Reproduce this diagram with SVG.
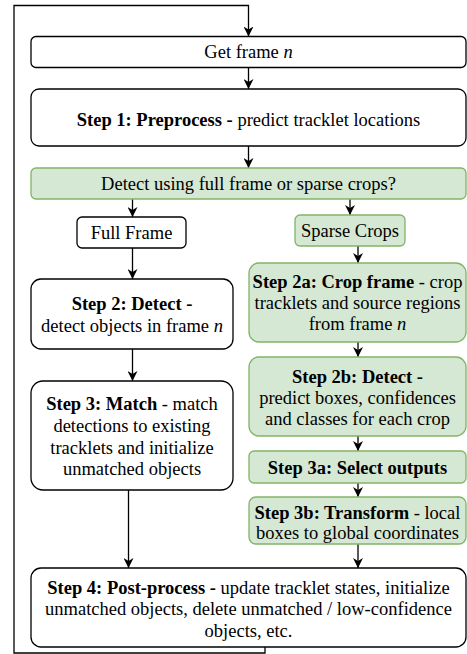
<svg xmlns="http://www.w3.org/2000/svg" width="467" height="654" viewBox="0 0 467 654">
<style>
.nodeWhite{fill:#ffffff;stroke:#000000;stroke-width:1.3}
.nodeGreen{fill:#d5e8d4;stroke:#82b366;stroke-width:1.3}
.edgeLine{fill:none;stroke:#000000;stroke-width:1.3}
</style>
<defs>
<marker id="ah" viewBox="0 0 10 10" refX="10" refY="5" markerWidth="10" markerHeight="10" markerUnits="userSpaceOnUse" orient="auto">
<path d="M0,0 L10,5 L0,10 L3,5 z" fill="#000000"/>
</marker>
</defs>
<rect width="467" height="654" fill="#ffffff"/>
<g id="connectors">
<path class="edgeLine" d="M265,647 V653 H14 V5.5 H248.5 V36.5" marker-end="url(#ah)"/>
<path class="edgeLine" d="M248.5,67.5 V89" marker-end="url(#ah)"/>
<path class="edgeLine" d="M248.5,146 V168" marker-end="url(#ah)"/>
<path class="edgeLine" d="M132.5,199 V217" marker-end="url(#ah)"/>
<path class="edgeLine" d="M350,199 V215" marker-end="url(#ah)"/>
<path class="edgeLine" d="M132.5,248 V279" marker-end="url(#ah)"/>
<path class="edgeLine" d="M358,246 V263" marker-end="url(#ah)"/>
<path class="edgeLine" d="M132.5,349 V381" marker-end="url(#ah)"/>
<path class="edgeLine" d="M358,342 V357" marker-end="url(#ah)"/>
<path class="edgeLine" d="M358,436 V451" marker-end="url(#ah)"/>
<path class="edgeLine" d="M358,483 V497" marker-end="url(#ah)"/>
<path class="edgeLine" d="M128.5,490 V568" marker-end="url(#ah)"/>
<path class="edgeLine" d="M358,544 V568" marker-end="url(#ah)"/>
</g>
<g id="get-frame">
<rect class="nodeWhite" x="31" y="36.5" width="435" height="31" rx="5"/>
<text style="font-family:'Liberation Serif',serif;font-size:18.5px;text-anchor:middle" x="248.5" y="58">Get frame <tspan style="font-style:italic">n</tspan></text>
</g>
<g id="step1">
<rect class="nodeWhite" x="31" y="89" width="435" height="57" rx="8"/>
<text style="font-family:'Liberation Serif',serif;font-size:18.5px;text-anchor:middle" x="248.5" y="126"><tspan style="font-weight:bold">Step 1: Preprocess -</tspan> predict tracklet locations</text>
</g>
<g id="decision">
<rect class="nodeGreen" x="31" y="168" width="435" height="31" rx="5"/>
<text style="font-family:'Liberation Serif',serif;font-size:18.5px;text-anchor:middle" x="248.5" y="190">Detect using full frame or sparse crops?</text>
</g>
<g id="full-frame">
<rect class="nodeWhite" x="77" y="217" width="109" height="31" rx="5"/>
<text style="font-family:'Liberation Serif',serif;font-size:18.5px;text-anchor:middle" x="131.5" y="238.5">Full Frame</text>
</g>
<g id="sparse-crops">
<rect class="nodeGreen" x="295" y="215" width="110" height="31" rx="5"/>
<text style="font-family:'Liberation Serif',serif;font-size:18.5px;text-anchor:middle" x="350" y="236.5">Sparse Crops</text>
</g>
<g id="step2">
<rect class="nodeWhite" x="31" y="279" width="202" height="70" rx="10"/>
<text style="font-family:'Liberation Serif',serif;font-size:18.5px;text-anchor:middle;font-weight:bold" x="132" y="310">Step 2: Detect -</text>
<text style="font-family:'Liberation Serif',serif;font-size:18.5px;text-anchor:middle" x="132" y="332">detect objects in frame <tspan style="font-style:italic">n</tspan></text>
</g>
<g id="step2a">
<rect class="nodeGreen" x="249" y="263" width="217" height="79" rx="10"/>
<text style="font-family:'Liberation Serif',serif;font-size:18.5px;text-anchor:middle" x="357.5" y="288"><tspan style="font-weight:bold">Step 2a: Crop frame</tspan> - crop</text>
<text style="font-family:'Liberation Serif',serif;font-size:18.5px;text-anchor:middle" x="357.5" y="309">tracklets and source regions</text>
<text style="font-family:'Liberation Serif',serif;font-size:18.5px;text-anchor:middle" x="357.5" y="330">from frame <tspan style="font-style:italic">n</tspan></text>
</g>
<g id="step3">
<rect class="nodeWhite" x="31" y="381" width="202" height="109" rx="12"/>
<text style="font-family:'Liberation Serif',serif;font-size:18.5px;text-anchor:middle" x="132" y="410"><tspan style="font-weight:bold">Step 3: Match</tspan> - match</text>
<text style="font-family:'Liberation Serif',serif;font-size:18.5px;text-anchor:middle" x="132" y="432">detections to existing</text>
<text style="font-family:'Liberation Serif',serif;font-size:18.5px;text-anchor:middle" x="132" y="453.5">tracklets and initialize</text>
<text style="font-family:'Liberation Serif',serif;font-size:18.5px;text-anchor:middle" x="132" y="475">unmatched objects</text>
</g>
<g id="step2b">
<rect class="nodeGreen" x="249" y="357" width="217" height="79" rx="10"/>
<text style="font-family:'Liberation Serif',serif;font-size:18.5px;text-anchor:middle;font-weight:bold" x="357.5" y="382.5">Step 2b: Detect -</text>
<text style="font-family:'Liberation Serif',serif;font-size:18.5px;text-anchor:middle" x="357.5" y="403.5">predict boxes, confidences</text>
<text style="font-family:'Liberation Serif',serif;font-size:18.5px;text-anchor:middle" x="357.5" y="425">and classes for each crop</text>
</g>
<g id="step3a">
<rect class="nodeGreen" x="249" y="451" width="217" height="32" rx="5"/>
<text style="font-family:'Liberation Serif',serif;font-size:18.5px;text-anchor:middle;font-weight:bold" x="357.5" y="473.5">Step 3a: Select outputs</text>
</g>
<g id="step3b">
<rect class="nodeGreen" x="249" y="497" width="217" height="47" rx="7"/>
<text style="font-family:'Liberation Serif',serif;font-size:18.5px;text-anchor:middle" x="357.5" y="518.5"><tspan style="font-weight:bold">Step 3b: Transform</tspan> - local</text>
<text style="font-family:'Liberation Serif',serif;font-size:18.5px;text-anchor:middle" x="357.5" y="539">boxes to global coordinates</text>
</g>
<g id="step4">
<rect class="nodeWhite" x="31" y="568" width="435" height="79" rx="10"/>
<text style="font-family:'Liberation Serif',serif;font-size:18.5px;text-anchor:middle" x="248.5" y="593.5"><tspan style="font-weight:bold">Step 4: Post-process -</tspan> update tracklet states, initialize</text>
<text style="font-family:'Liberation Serif',serif;font-size:18.5px;text-anchor:middle" x="248.5" y="615">unmatched objects, delete unmatched / low-confidence</text>
<text style="font-family:'Liberation Serif',serif;font-size:18.5px;text-anchor:middle" x="248.5" y="637">objects, etc.</text>
</g>
</svg>
